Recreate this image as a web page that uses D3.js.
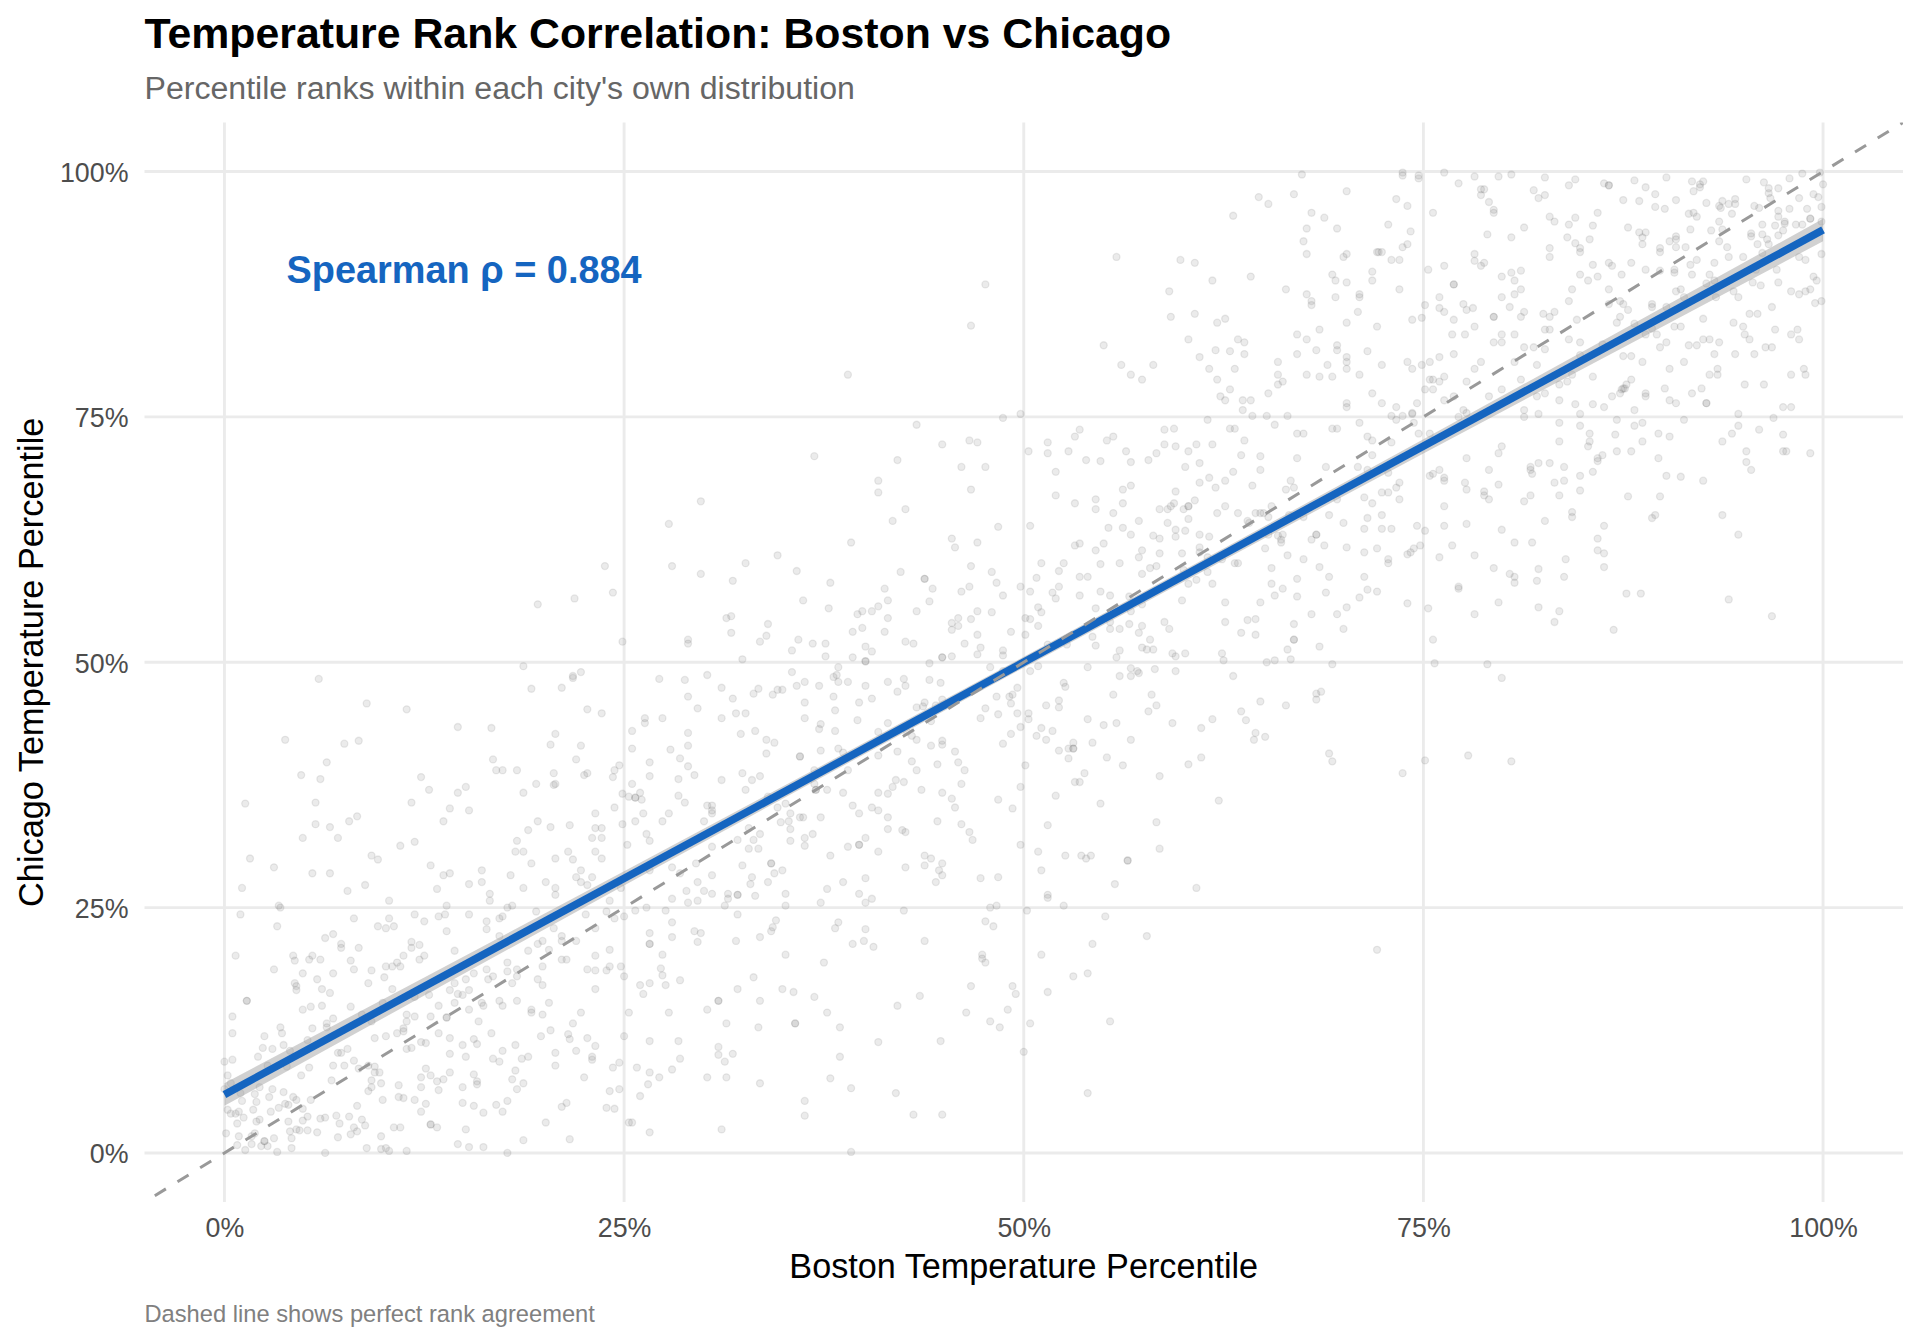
<!DOCTYPE html>
<html>
<head>
<meta charset="utf-8">
<script src="https://cdn.jsdelivr.net/npm/d3@7"></script>
<style>
  html, body { margin: 0; padding: 0; background: #fff; }
  text { font-family: "Liberation Sans", Arial, sans-serif; }
</style>
</head>
<body>
<svg id="chart" width="1920" height="1344"></svg>
<script>
// chart texts
const titleText = "Temperature Rank Correlation: Boston vs Chicago";
const subtitleText = "Percentile ranks within each city's own distribution";
const captionText = "Dashed line shows perfect rank agreement";
const xLabel = "Boston Temperature Percentile";
const yLabel = "Chicago Temperature Percentile";
const rhoText = "Spearman ρ = 0.884";

const tickValues = [0, 25, 50, 75, 100];

// fitted rank line and its confidence band
const fitX = [0, 100];
const fitY = [5.95, 94.05];
const bandX = [0, 12.5, 25, 37.5, 50, 62.5, 75, 87.5, 100];
const bandLow = [4.8, 16.04, 27.26, 38.39, 49.45, 60.4, 71.28, 82.08, 92.9];
const bandHigh = [7.1, 17.88, 28.7, 39.59, 50.55, 61.6, 72.72, 83.92, 95.2];

// perfect agreement line
const refX = [-5, 105];

// [boston %, chicago %] per day
const lowLow = [[1.0,24.3],[3.4,25.2],[3.5,25.0],[3.3,23.1],[8.1,23.9],[10.3,23.9],[11.9,24.3],[13.4,24.1],[13.8,24.3],[12.5,23.6],[9.6,23.1],[10.1,22.9],[10.6,23.1],[13.9,22.6],[15.3,24.3],[16.4,23.6],[16.4,22.8],[17.2,23.9],[17.4,24.1],[19.5,24.6],[17.2,22.1],[20.6,22.9],[21.1,22.1],[21.1,21.6],[22.0,21.6],[19.9,21.6],[19.6,21.3],[22.6,24.3],[23.9,24.6],[24.4,23.9],[25.0,24.1],[23.2,22.9],[6.3,21.9],[6.8,22.3],[7.3,21.3],[7.3,20.9],[8.4,20.9],[11.7,21.5],[11.7,20.9],[12.2,21.2],[0.7,20.1],[4.3,20.1],[4.4,19.6],[5.3,19.7],[5.5,20.1],[6.0,19.7],[7.9,19.6],[3.1,18.7],[4.9,18.3],[6.8,18.3],[8.1,18.7],[9.2,18.6],[10.1,19.0],[10.5,19.0],[10.8,19.4],[11.0,19.0],[11.2,20.1],[12.2,19.7],[12.5,20.1],[14.4,20.6],[19.0,20.6],[20.3,20.7],[23.2,20.1],[24.1,20.7],[21.1,19.7],[21.4,19.7],[17.7,19.4],[19.9,19.0],[16.4,18.7],[17.7,18.5],[18.3,18.7],[18.3,18.0],[16.8,18.0],[16.5,17.7],[15.1,17.7],[15.6,18.3],[14.4,17.3],[10.0,17.9],[9.0,17.3],[5.8,17.7],[4.4,17.3],[4.5,17.0],[4.5,16.6],[6.1,16.7],[6.6,16.3],[10.5,16.7],[18.0,17.3],[19.6,17.7],[19.9,17.1],[22.7,18.7],[23.2,18.6],[23.9,18.6],[24.1,19.0],[24.8,19.0],[25.0,18.0],[23.2,16.7],[14.1,16.6],[14.6,16.2],[14.9,16.1],[15.3,16.6],[12.8,16.1],[11.9,15.9],[1.4,15.5],[1.4,15.5],[4.9,14.6],[5.4,14.9],[6.1,15.0],[7.9,14.9],[9.9,15.3],[13.4,15.0],[14.4,15.3],[16.1,15.3],[16.2,15.0],[17.2,15.5],[17.4,15.0],[18.3,15.5],[20.3,15.3],[15.3,14.6],[19.2,14.6],[19.2,14.3],[19.9,14.1],[22.3,14.3],[25.3,14.3],[0.5,13.9],[8.6,14.1],[6.8,13.7],[11.4,14.1],[11.9,13.9],[12.9,13.9],[13.9,13.8],[13.9,13.8],[11.4,13.4],[9.2,13.4],[15.9,13.4],[6.4,13.2],[6.4,12.8],[3.5,12.8],[5.5,12.7],[0.5,12.2],[3.6,12.2],[11.2,12.7],[11.2,12.4],[10.8,12.2],[13.4,12.2],[16.7,12.2],[21.8,13.2],[20.4,12.5],[2.5,11.9],[5.2,11.5],[9.4,11.7],[10.1,11.9],[14.1,11.7],[15.6,11.6],[19.8,11.9],[21.5,12.1],[21.6,11.6],[22.7,11.7],[25.0,11.9],[12.3,11.3],[12.6,11.2],[15.8,11.1],[14.9,11.0],[18.2,11.0],[2.4,10.7],[3.0,10.6],[3.7,11.0],[4.1,10.4],[7.7,10.6],[11.4,10.6],[11.7,10.7],[23.2,10.9],[22.0,10.4],[17.4,10.4],[20.7,10.2],[7.1,10.2],[7.3,10.2],[14.1,10.1],[15.1,9.8],[2.1,9.8],[19.0,9.8],[18.6,9.6],[16.8,9.6],[17.2,9.3],[23.0,9.8],[23.0,9.5],[0.5,9.5],[0,9.3],[8.1,9.4],[2.7,8.9],[6.8,8.9],[7.5,8.9],[5.3,8.7],[3.9,8.8],[9.0,8.9],[9.4,8.8],[8.4,8.6],[20.7,8.9],[24.7,9.2],[24.3,8.7],[12.6,8.6],[9.4,8.2],[9.7,8.2],[12.9,7.9],[14.1,8.2],[15.6,8.0],[18.2,8.4],[0.2,7.9],[4.8,7.9],[12.3,7.7],[22.5,7.7],[6.7,7.4],[9.2,7.4],[9.8,7.1],[13.3,7.3],[13.7,7.5],[15.8,7.3],[15.8,7.0],[18.0,7.5],[18.7,7.1],[0.4,7.1],[10.9,6.9],[14.9,6.7],[12.3,6.7],[9.2,6.7],[2.2,6.7],[3.0,6.5],[18.3,6.5],[24.7,6.5],[0,6.5],[13.4,6.4],[9.0,6.3],[24.1,6.3],[3.7,6.2],[1.9,6.0],[1.0,6.1],[4.3,5.7],[2.8,5.7],[10.9,5.7],[11.2,5.6],[4.5,5.4],[5.4,5.4],[9.9,5.4],[11.9,5.4],[17.7,5.3],[1.1,5.3],[2.0,5.2],[14.9,5.1],[12.6,5.0],[21.4,5.1],[3.8,5.0],[4.0,4.9],[8.3,4.8],[15.6,4.8],[17.0,4.9],[21.1,4.7],[23.9,4.6],[24.4,4.5],[3.4,4.6],[4.9,4.5],[1.8,4.4],[0.2,4.4],[0.9,4.2],[2.9,4.2],[12.3,4.2],[16.2,4.1],[17.4,4.2],[0.4,4.0],[0.7,4.0],[5.2,3.7],[7.0,3.8],[7.8,3.7],[1.2,3.6],[6.0,3.5],[6.3,3.6],[2.2,3.4],[4.9,3.3],[8.6,3.4],[2.0,3.2],[0.8,3.0],[4.0,3.2],[20.1,3.1],[7.2,3.0],[12.9,2.9],[12.9,2.9],[8.8,2.8],[13.3,2.6],[10.6,2.6],[11.0,2.6],[8.1,2.6],[15.1,2.4],[4.5,2.4],[4.7,2.3],[5.2,2.3],[4.1,2.2],[8.3,2.2],[5.8,2.1],[0.1,2.0],[1.9,2.0],[7.9,1.9],[9.8,1.7],[1.7,1.7],[0.9,1.7],[4.2,1.5],[7.1,1.6],[3.1,1.5],[2.5,1.2],[2.5,1.2],[18.7,1.3],[21.6,1.4],[1.7,0.9],[0.8,0.8],[2.7,0.7],[2.3,0.7],[14.6,0.9],[15.3,0.6],[16.2,0.6],[4.2,0.5],[1.3,0.3],[8.9,0.5],[9.8,0.4],[10.1,0.5],[10.3,0.2],[11.4,0.2],[3.3,0.1],[6.3,0.0],[17.7,0.0]];

const lowMid = [[5.9,48.3],[18.7,49.6],[21.8,48.6],[21.8,48.4],[22.3,49.0],[19.2,47.3],[21.1,47.4],[8.9,45.8],[11.4,45.2],[22.7,45.2],[23.6,44.8],[14.6,43.4],[16.7,43.3],[20.7,42.7],[3.8,42.1],[7.5,41.7],[8.4,42.0],[20.4,41.6],[22.3,41.5],[6.4,39.8],[16.8,40.1],[22.0,40.1],[17.0,39.0],[17.4,39.0],[18.3,39.0],[20.6,38.7],[24.7,39.5],[24.4,39.0],[22.7,38.7],[22.5,38.5],[24.3,38.3],[4.8,38.5],[6.0,38.1],[12.3,38.3],[19.5,37.6],[20.7,37.6],[20.6,37.5],[15.1,37.3],[12.8,37.0],[14.6,36.7],[18.7,36.7],[1.3,35.6],[5.7,35.7],[11.7,35.7],[14.1,35.1],[15.3,34.9],[24.4,35.2],[23.2,34.6],[8.3,34.3],[7.8,33.8],[13.7,33.8],[19.6,33.8],[5.7,33.5],[6.6,33.2],[21.6,33.4],[20.4,33.2],[23.2,33.1],[23.6,33.1],[19.0,32.9],[4.9,32.1],[7.1,32.1],[23.0,32.1],[23.6,32.1],[18.3,31.8],[11.9,31.7],[11.0,31.3],[18.2,30.7],[18.7,30.7],[21.5,30.7],[23.2,30.7],[9.2,30.3],[9.6,29.9],[1.6,30.0],[20.7,30.0],[21.8,29.9],[23.6,30.0],[19.2,29.5],[12.9,29.3],[3.1,29.1],[16.1,28.8],[22.3,28.8],[5.5,28.5],[6.6,28.5],[13.7,28.3],[14.1,28.5],[17.9,28.3],[22.0,28.1],[23.0,28.1],[8.8,27.3],[1.1,27.0],[15.3,27.4],[16.1,27.6],[20.1,27.6],[22.3,27.6],[22.7,27.3],[18.7,27.0],[20.7,27.0],[13.3,26.9],[7.7,26.7],[24.8,27.0],[16.6,26.4],[20.7,26.3],[10.3,25.7],[16.6,25.7],[24.1,25.7],[13.9,25.2],[17.7,25.0],[18.0,25.2],[19.6,55.9],[21.9,56.5],[24.3,57.1],[23.8,59.8],[24.9,52.1]];

const midLow = [[28.0,23.5],[26.6,22.4],[26.6,21.3],[26.6,21.3],[28.0,22.0],[29.4,22.6],[29.8,22.4],[29.6,21.5],[32.0,21.6],[33.5,22.0],[34.3,23.0],[34.5,23.7],[34.2,22.6],[38.4,23.5],[38.2,22.9],[40.1,22.8],[39.3,21.3],[40.0,21.6],[40.6,21.0],[43.8,21.6],[35.1,20.2],[27.4,20.2],[27.3,18.8],[27.4,18.1],[28.5,17.6],[26.0,17.1],[26.6,17.3],[27.6,17.1],[26.2,16.2],[33.1,17.9],[32.1,16.7],[34.9,16.7],[35.6,16.4],[36.9,15.9],[37.5,19.4],[30.9,15.5],[30.9,15.5],[30.2,14.6],[33.5,15.5],[37.7,14.3],[27.8,14.3],[42.1,15.0],[43.5,16.0],[31.4,13.2],[33.4,12.8],[35.7,13.2],[35.7,13.2],[38.5,12.8],[26.6,11.4],[28.4,11.4],[30.9,10.8],[31.8,10.1],[30.9,10.0],[31.3,9.3],[40.9,11.3],[44.8,11.4],[38.5,9.8],[28.5,9.6],[25.8,8.7],[26.6,8.2],[28.0,8.5],[27.2,7.7],[30.2,7.7],[31.4,7.7],[33.5,7.1],[37.9,7.6],[26.5,7.0],[39.2,6.6],[26.0,5.8],[42.0,6.1],[36.3,5.3],[36.3,3.8],[43.1,3.9],[44.9,3.9],[25.3,3.1],[25.5,3.1],[26.6,2.1],[31.1,2.4],[39.2,0.1],[47.6,23.6],[48.1,23.1],[47.4,20.2],[47.4,19.8],[47.6,19.4],[46.7,17.0],[49.3,17.0],[49.5,16.2],[46.4,14.3],[49.0,14.6],[47.9,13.4],[48.5,12.8],[50.4,13.2],[50.0,10.3],[51.1,20.2],[51.5,16.4],[53.1,18.0],[54.0,18.3],[54.3,21.3],[55.1,24.1],[57.7,22.1],[55.4,13.4],[54.0,6.1],[72.1,20.7]];

const midMid = [[32.4,50.3],[38.4,49.5],[40.1,50.1],[40.1,50.1],[44.1,49.9],[44.9,50.5],[44.9,50.5],[35.5,49.0],[38.3,48.7],[38.1,48.5],[27.2,48.3],[28.8,48.2],[30.2,48.7],[38.4,48.0],[39.0,48.0],[41.5,48.0],[42.5,48.3],[44.1,48.2],[44.8,47.9],[42.6,47.6],[36.3,48.0],[35.8,47.6],[37.2,47.6],[40.1,47.6],[31.1,47.4],[33.4,47.3],[33.1,46.8],[34.3,46.7],[34.6,47.2],[34.9,47.2],[42.1,47.0],[29.0,46.5],[31.8,46.3],[38.1,46.5],[40.5,46.3],[47.9,49.5],[48.7,49.1],[49.6,47.4],[49.3,46.7],[49.1,46.5],[48.3,46.5],[36.3,45.9],[39.7,45.9],[43.8,45.9],[49.2,45.8],[29.6,45.3],[43.3,45.4],[43.7,45.5],[44.5,45.6],[44.9,46.2],[47.6,45.3],[38.2,45.1],[26.3,44.3],[26.3,43.8],[27.4,44.3],[31.1,44.3],[32.0,44.8],[32.6,44.8],[36.3,44.3],[39.6,44.1],[44.2,44.0],[47.3,44.3],[48.4,44.7],[49.6,44.8],[50.3,44.8],[50.3,44.2],[41.5,43.8],[37.3,43.7],[37.2,43.2],[49.8,43.4],[25.5,43.0],[29.0,42.8],[32.3,42.7],[33.2,43.0],[38.2,43.0],[40.9,42.9],[42.7,42.9],[49.2,42.7],[43.0,42.5],[33.9,42.1],[34.4,41.8],[43.3,42.1],[44.9,42.0],[44.9,41.6],[44.2,41.5],[48.7,41.7],[25.5,41.2],[27.9,41.1],[29.0,41.5],[38.4,41.2],[37.3,41.0],[33.9,40.7],[38.7,40.8],[42.1,40.9],[45.7,40.9],[36.0,40.4],[36.0,40.4],[40.9,40.5],[28.5,40.2],[26.6,39.8],[29.0,39.4],[43.0,39.9],[44.6,39.6],[45.9,39.8],[50.1,39.5],[43.3,39.0],[46.3,39.0],[39.0,39.0],[36.9,39.0],[32.4,38.7],[29.4,38.5],[26.6,38.4],[33.5,38.4],[28.4,38.1],[31.1,38.0],[33.0,38.0],[42.0,38.0],[42.5,37.8],[25.5,37.6],[36.9,37.6],[46.1,37.6],[41.8,37.3],[49.8,37.3],[32.6,37.0],[37.0,37.0],[37.0,37.0],[37.7,37.0],[43.6,37.0],[24.9,36.6],[26.0,36.7],[38.7,36.7],[40.9,36.7],[41.5,36.6],[44.9,36.7],[25.3,36.3],[25.7,36.2],[25.7,36.2],[28.4,36.4],[26.1,36.0],[45.5,36.1],[28.8,35.7],[48.4,36.0],[34.0,36.3],[35.1,35.6],[30.2,35.4],[30.5,35.4],[39.3,35.4],[34.6,35.2],[30.5,34.9],[40.5,35.2],[40.9,34.9],[45.7,35.2],[49.3,35.1],[26.2,34.6],[27.8,34.6],[30.5,34.6],[35.4,34.6],[39.7,34.6],[25.7,33.8],[27.4,33.8],[30.0,33.8],[34.8,33.7],[35.3,33.8],[36.0,34.2],[36.2,34.2],[37.3,34.2],[41.5,34.2],[44.6,33.8],[24.9,33.5],[46.1,33.5],[32.8,33.1],[35.4,33.0],[41.5,33.0],[42.4,32.9],[42.6,32.7],[46.6,32.7],[26.4,32.5],[33.5,32.5],[36.8,32.5],[26.6,31.8],[33.1,31.9],[32.1,31.9],[35.4,31.8],[36.3,32.1],[40.1,32.1],[46.8,31.9],[25.2,31.4],[36.3,31.3],[39.7,31.4],[39.7,31.4],[49.8,31.4],[30.5,31.2],[39.0,31.2],[32.8,31.0],[33.4,31.0],[40.9,30.7],[37.9,30.3],[43.8,30.3],[44.2,30.0],[29.5,29.5],[28.0,29.1],[32.4,29.3],[34.2,29.5],[34.2,29.5],[43.8,29.3],[44.9,29.5],[42.6,29.1],[26.6,28.8],[28.5,28.5],[34.9,28.8],[34.4,28.5],[44.7,28.8],[30.5,28.3],[33.0,28.1],[44.9,28.3],[47.3,28.0],[48.4,28.1],[40.1,28.0],[29.6,27.6],[32.9,27.4],[34.0,27.6],[38.7,27.6],[44.5,27.6],[37.7,26.9],[28.9,26.7],[30.0,26.7],[30.5,26.4],[31.5,26.4],[31.5,25.9],[32.1,26.3],[32.1,26.3],[33.2,26.2],[35.1,26.4],[39.7,26.4],[28.0,25.9],[29.0,25.5],[29.6,25.7],[40.5,25.9],[37.3,25.5],[40.1,25.5],[31.3,25.2],[35.1,25.2],[47.9,25.0],[48.3,25.2],[26.4,25.0],[25.7,24.7],[27.6,24.7],[42.5,24.7],[50.2,24.7],[32.1,24.3]];

const midHigh = [[49.8,75.3],[48.7,74.9],[43.3,74.2],[44.9,72.2],[46.6,72.6],[47.1,72.4],[36.9,71.0],[42.1,70.6],[46.1,69.9],[47.6,69.9],[40.9,68.5],[40.9,67.3],[46.7,67.6],[29.8,66.4],[42.6,65.6],[27.8,64.1],[41.8,64.4],[48.4,63.8],[45.5,62.6],[39.2,62.2],[47.1,62.2],[45.7,61.7],[34.6,60.9],[32.6,60.1],[46.7,59.8],[28.0,59.8],[29.8,59.0],[35.8,59.3],[42.3,59.2],[48.0,59.2],[31.8,58.3],[37.9,58.1],[43.8,58.5],[43.8,58.5],[48.3,58.1],[49.8,57.7],[41.3,57.5],[44.3,57.5],[46.1,57.2],[46.6,57.7],[48.7,56.8],[36.2,56.3],[41.5,56.3],[44.1,56.2],[37.8,55.5],[40.9,55.7],[40.5,55.2],[39.9,55.2],[39.6,54.9],[43.3,55.2],[47.1,55.2],[48.0,55.1],[31.7,54.7],[31.4,54.5],[41.5,54.5],[45.9,54.5],[46.7,54.4],[34.0,53.9],[45.5,54.0],[45.9,53.7],[45.5,53.3],[39.9,53.5],[39.3,53.1],[41.3,53.1],[31.7,53.0],[49.2,53.1],[33.9,52.7],[47.1,52.8],[29.0,52.3],[29.0,51.9],[33.5,52.1],[35.9,52.3],[36.8,51.9],[37.6,51.9],[42.6,52.1],[43.1,51.9],[46.3,51.9],[40.1,51.6],[47.3,51.5],[35.5,51.2],[40.5,51.1],[48.7,51.2],[48.7,50.7],[37.6,50.6],[39.3,50.5],[47.1,50.8],[45.5,50.6],[39.0,79.3],[47.6,88.5],[46.7,84.3]];

const upperMid = [[52.5,47.9],[52.6,47.5],[56.0,48.6],[56.7,48.6],[57.2,48.9],[63.1,48.6],[52.2,46.1],[55.6,46.7],[58.0,46.7],[51.4,45.6],[52.2,45.4],[58.3,45.6],[64.8,46.0],[66.4,45.6],[68.3,46.8],[68.6,47.0],[68.3,46.2],[79.9,48.4],[54.0,44.2],[57.8,45.0],[55.0,43.6],[55.8,43.8],[59.3,43.8],[61.8,44.2],[63.6,45.0],[63.9,44.1],[61.1,43.3],[51.1,43.3],[51.8,43.0],[50.8,42.5],[51.4,42.1],[54.3,41.8],[56.7,42.1],[64.5,42.8],[65.1,42.4],[64.4,42.1],[53.1,41.8],[52.8,41.2],[53.1,41.2],[53.1,41.2],[52.2,41.0],[69.1,40.7],[69.3,39.9],[55.2,40.3],[52.8,40.2],[61.1,40.3],[60.3,39.6],[56.2,39.5],[53.8,38.7],[58.5,38.4],[73.7,38.7],[75.1,40.0],[77.8,40.5],[80.5,39.9],[53.2,37.8],[53.5,37.8],[52.0,36.4],[54.8,35.6],[62.2,35.9],[58.3,33.7],[51.5,33.4],[58.5,31.0],[50.9,30.7],[52.6,30.3],[53.6,30.3],[53.9,30.0],[54.2,30.3],[56.5,29.8],[56.5,29.8],[51.1,28.8],[55.7,27.4],[60.8,27.0],[51.5,26.3],[51.5,26.0],[52.5,25.2]];

const upperUpper = [[61.5,74.7],[64.3,75.1],[65.2,75.1],[66.5,75.1],[73.0,75.1],[73.7,75.1],[73.3,74.7],[74.3,75.3],[74.4,74.4],[71.0,74.4],[58.8,73.7],[59.4,73.8],[62.9,73.8],[63.2,73.8],[65.7,74.2],[69.3,73.8],[69.6,73.8],[67.1,73.3],[67.5,73.3],[74.7,73.3],[75.4,73.3],[53.5,73.7],[53.2,73.0],[55.6,73.0],[55.2,72.6],[51.5,72.4],[50.3,71.5],[51.5,71.3],[52.8,71.5],[71.5,73.0],[71.8,72.6],[73.0,72.4],[63.8,72.6],[58.8,72.2],[59.5,72.0],[60.8,72.2],[61.8,72.2],[60.3,71.5],[56.4,71.5],[58.3,71.3],[63.6,71.1],[64.8,71.0],[67.1,70.8],[71.8,71.1],[53.9,70.6],[54.8,70.5],[56.7,70.4],[57.8,70.6],[61.0,70.3],[60.1,69.9],[68.9,69.9],[70.9,69.9],[52.0,69.4],[63.1,69.4],[64.8,69.6],[72.8,69.3],[71.5,69.6],[61.6,68.8],[61.0,68.3],[62.6,68.5],[66.7,68.5],[75.4,69.0],[75.6,69.2],[56.7,68.0],[64.3,68.0],[73.5,68.3],[56.2,67.6],[62.0,67.8],[66.4,67.6],[66.9,67.8],[73.3,67.8],[59.5,67.4],[72.4,67.3],[72.8,67.3],[52.0,67.0],[71.3,66.8],[73.5,66.6],[54.5,66.6],[60.7,66.5],[69.6,66.6],[53.2,66.2],[56.2,66.2],[59.4,66.2],[71.8,66.2],[59.2,65.9],[59.0,65.6],[58.5,65.6],[60.3,65.9],[60.3,65.9],[60.0,65.6],[62.6,65.9],[65.5,65.9],[54.5,65.6],[55.6,65.2],[62.1,65.2],[63.4,65.2],[64.5,65.2],[64.8,65.2],[65.0,65.2],[66.6,65.0],[65.3,64.8],[69.1,65.0],[67.5,64.8],[72.4,65.0],[71.5,64.7],[60.3,64.6],[57.2,64.4],[64.0,64.4],[64.1,64.2],[59.0,64.2],[70.0,64.2],[50.4,63.9],[55.3,63.7],[56.2,63.7],[74.6,63.9],[59.5,63.5],[60.1,63.4],[71.3,63.6],[72.4,63.6],[73.0,63.6],[75.1,63.4],[56.7,63.0],[58.1,62.9],[58.5,62.6],[59.5,62.8],[61.0,63.0],[61.6,62.8],[65.3,63.0],[65.9,62.9],[66.2,63.0],[66.1,62.5],[66.1,62.2],[68.3,63.0],[68.3,63.0],[68.0,62.5],[53.2,61.9],[53.5,62.1],[55.0,62.1],[68.8,61.9],[70.2,61.7],[72.1,61.6],[65.1,61.6],[54.5,61.4],[57.4,61.4],[61.0,61.7],[61.0,61.2],[74.8,61.9],[74.4,61.6],[74.2,61.2],[74.0,61.0],[71.3,61.2],[59.9,61.1],[58.5,61.1],[66.5,60.9],[57.2,60.7],[61.5,60.7],[62.4,60.5],[67.5,60.5],[72.8,60.5],[72.8,60.1],[51.1,60.1],[52.5,60.1],[54.8,60.0],[56.0,60.1],[63.2,60.1],[63.4,60.1],[58.3,59.8],[57.9,59.6],[68.5,59.7],[65.5,59.6],[52.2,59.3],[61.5,59.2],[57.4,59.0],[60.0,59.4],[50.8,58.6],[53.5,58.7],[54.0,58.7],[69.1,58.7],[71.3,58.7],[60.8,58.4],[67.1,58.5],[60.3,58.0],[61.8,58.0],[65.5,58.0],[52.2,57.7],[66.2,57.5],[71.5,57.4],[72.1,57.2],[50.4,57.2],[54.8,57.2],[51.8,57.1],[68.9,57.1],[53.5,56.8],[55.4,56.8],[56.6,56.7],[67.1,56.7],[65.7,56.8],[52.0,56.5],[71.0,56.6],[59.9,56.3],[62.6,56.1],[64.8,56.1],[57.4,55.9],[74.0,56.0],[50.9,55.6],[70.2,55.6],[54.5,55.5],[56.7,55.2],[75.3,55.5],[51.1,55.1],[69.6,54.9],[68.0,54.9],[50.1,54.5],[50.4,54.4],[64.0,54.3],[64.5,54.4],[58.8,54.1],[62.6,54.1],[55.4,54.1],[56.6,53.9],[57.4,53.7],[66.9,53.9],[50.9,53.7],[55.4,53.4],[56.0,53.4],[59.1,53.4],[70.0,53.4],[57.2,53.0],[63.6,53.0],[64.5,52.8],[50.1,52.8],[54.3,52.6],[66.9,52.3],[66.9,52.3],[57.9,52.3],[52.7,51.8],[51.5,51.8],[54.5,51.7],[68.5,51.6],[57.4,51.5],[57.7,51.3],[58.1,51.3],[66.5,51.3],[56.0,51.2],[75.6,52.3],[62.4,50.9],[59.3,50.9],[59.5,50.6],[60.1,50.9],[55.8,50.5],[62.5,50.2],[65.2,50.0],[65.7,50.2],[66.7,50.3],[69.3,49.8],[50.9,49.6],[54.0,49.5],[56.7,49.4],[57.1,49.1],[58.2,49.3],[59.5,49.1],[50.4,49.1]];

const highMid = [[81.3,75.0],[82.2,75.3],[84.8,75.3],[94.7,75.3],[87.1,74.7],[91.3,74.7],[96.9,74.9],[83.5,74.4],[84.8,74.1],[88.2,74.1],[88.7,74.4],[94.7,74.1],[96.0,73.7],[85.4,73.3],[87.0,73.2],[89.7,73.3],[94.3,73.3],[90.4,73.0],[97.5,73.2],[83.5,72.5],[85.4,72.5],[85.3,72.0],[88.7,72.5],[93.7,72.5],[79.9,72.0],[79.7,71.3],[87.1,71.5],[88.0,71.5],[86.2,71.1],[85.9,70.8],[85.9,70.5],[95.2,71.5],[97.5,71.5],[97.7,71.5],[99.2,71.3],[77.7,70.8],[89.7,70.8],[82.2,70.3],[82.9,70.3],[95.2,70.4],[81.7,69.9],[81.7,69.6],[83.8,69.9],[79.1,69.6],[95.5,69.6],[76.0,69.6],[85.6,69.4],[81.8,69.2],[76.3,68.8],[76.3,68.5],[84.8,69.0],[90.2,69.0],[91.1,68.9],[92.5,68.5],[77.6,68.3],[83.2,68.3],[83.8,68.5],[79.7,68.1],[77.7,67.6],[78.8,67.4],[78.8,67.0],[84.8,67.5],[79.1,66.6],[81.7,67.0],[83.5,67.0],[87.8,66.9],[89.8,66.9],[81.3,66.4],[76.3,65.9],[84.3,65.3],[84.3,64.8],[93.7,65.0],[89.5,65.0],[89.3,64.7],[82.6,64.4],[77.7,64.1],[76.3,63.9],[86.3,63.9],[79.9,63.5],[94.7,63.0],[85.9,62.6],[80.7,62.2],[81.8,62.2],[76.8,61.9],[78.2,60.9],[76.0,60.7],[85.9,61.4],[86.3,61.1],[83.9,60.5],[79.4,59.6],[82.2,59.5],[86.3,59.7],[80.4,59.0],[80.7,58.7],[83.8,58.7],[80.7,58.1],[82.1,58.3],[77.2,57.7],[77.2,57.5],[87.7,57.0],[88.6,57.0],[94.1,56.4],[79.7,56.1],[82.2,55.6],[83.5,55.2],[78.2,54.9],[96.8,54.7],[83.2,54.1],[86.9,53.3],[75.7,49.9],[79.0,49.8]];

const upperTop = [[67.4,99.7],[73.7,99.9],[73.7,99.6],[74.7,99.6],[74.7,99.3],[66.9,97.7],[70.2,98.0],[64.7,97.4],[65.3,96.7],[73.3,97.2],[74.0,96.5],[63.1,95.5],[68.0,95.8],[68.8,95.3],[75.6,95.8],[72.8,94.6],[67.7,94.2],[69.6,94.2],[74.2,93.9],[67.5,92.9],[74.0,92.6],[73.7,92.3],[67.7,91.6],[70.2,91.6],[70.0,91.3],[72.1,91.8],[72.2,91.8],[72.4,91.8],[55.8,91.3],[59.8,91.0],[60.7,90.7],[73.0,91.0],[73.5,91.0],[75.3,90.0],[71.8,89.8],[69.3,89.5],[64.2,89.3],[61.8,88.9],[69.5,88.9],[71.8,88.9],[70.2,88.7],[66.4,88.0],[73.5,88.0],[59.1,87.8],[67.7,87.5],[71.0,87.5],[71.0,87.2],[69.5,87.2],[68.0,86.8],[68.0,86.4],[75.1,86.4],[70.9,85.7],[59.2,85.2],[60.7,85.5],[74.9,85.1],[62.6,85.0],[62.1,84.6],[70.2,84.6],[74.3,84.9],[72.1,84.2],[68.5,83.9],[67.1,83.4],[67.7,82.9],[60.3,82.9],[63.4,82.9],[63.8,82.6],[55.0,82.3],[69.6,82.3],[69.6,81.8],[62.0,81.8],[62.9,81.7],[68.3,81.8],[71.5,81.7],[63.8,81.4],[67.1,81.4],[61.0,81.1],[70.2,81.1],[70.2,80.6],[65.9,80.6],[74.0,80.6],[75.4,80.6],[56.1,80.3],[58.1,80.3],[69.0,80.3],[72.4,80.3],[74.9,80.3],[61.6,79.9],[63.2,79.9],[70.2,79.9],[74.3,79.9],[56.7,79.3],[65.9,79.3],[67.7,79.3],[68.5,79.1],[69.3,79.1],[71.0,79.3],[57.4,78.8],[62.1,78.8],[66.2,78.6],[65.9,78.3],[75.4,78.8],[75.6,78.8],[62.9,77.8],[75.1,77.8],[75.6,77.8],[65.3,77.4],[71.8,77.4],[62.3,77.1],[62.6,76.7],[63.7,76.7],[64.2,76.7],[70.2,76.4],[70.2,76.0],[72.4,76.4],[74.6,76.4],[73.3,76.0],[63.7,75.7],[74.3,75.4]];

const highHigh = [[76.3,99.9],[77.2,98.8],[78.2,99.5],[79.7,99.5],[80.5,99.7],[82.6,99.4],[84.1,98.6],[84.5,99.2],[86.3,98.8],[86.6,98.6],[86.6,98.6],[88.2,99.1],[88.9,98.4],[90.2,99.4],[91.8,99.0],[92.3,98.7],[92.3,98.4],[92.5,99.0],[95.2,99.2],[96.3,98.9],[97.9,99.3],[98.7,99.8],[99.8,99.9],[100,98.7],[96.6,98.3],[97.2,98.3],[96.6,97.8],[96.7,97.3],[78.6,98.2],[78.8,98.2],[78.6,97.6],[81.9,98.1],[82.6,97.6],[82.2,97.3],[91.9,98.0],[89.5,97.7],[90.8,97.1],[87.5,97.1],[88.5,97.0],[79.1,96.9],[92.7,96.8],[93.7,97.0],[94.5,97.2],[94.5,96.7],[94.1,96.7],[93.5,96.5],[98.5,97.3],[99.4,97.7],[99.7,97.4],[89.5,96.4],[90.1,96.2],[95.7,96.5],[96.0,96.3],[97.9,96.2],[99.0,96.2],[99.9,96.4],[79.4,96.1],[79.4,95.8],[85.9,95.8],[91.6,95.7],[91.9,95.8],[92.1,95.4],[94.3,95.7],[93.6,96.3],[97.2,96.0],[97.2,95.4],[82.9,95.4],[83.2,94.9],[84.5,95.3],[93.5,94.9],[97.6,94.9],[99.2,95.2],[99.2,95.2],[99.9,94.9],[81.3,94.3],[84.1,94.6],[85.6,94.5],[87.8,94.3],[91.7,94.1],[93.0,94.0],[93.7,94.1],[96.2,94.6],[97.0,94.5],[97.6,94.7],[98.3,94.6],[98.7,94.6],[97.5,94.0],[88.5,93.8],[88.9,93.8],[79.0,93.6],[80.5,93.3],[84.0,93.3],[85.4,93.1],[88.7,93.3],[90.8,93.4],[90.8,93.1],[90.4,92.9],[95.5,93.7],[95.5,93.4],[96.2,93.6],[97.2,93.5],[96.5,93.1],[88.7,92.6],[84.5,92.7],[93.5,92.9],[95.9,92.6],[96.6,92.6],[82.9,92.2],[84.8,92.2],[84.8,91.8],[89.8,92.2],[89.8,91.8],[90.8,92.3],[91.4,92.3],[94.0,92.3],[78.2,91.6],[82.9,91.3],[96.2,91.7],[99.9,91.6],[94.1,91.3],[95.0,91.3],[98.5,91.3],[78.2,90.9],[92.1,91.0],[98.9,91.0],[78.6,90.4],[78.8,90.7],[76.3,90.4],[85.6,90.5],[86.6,90.7],[86.8,90.4],[88.0,90.7],[93.2,90.7],[91.7,90.5],[88.9,90.0],[89.8,89.9],[90.7,90.0],[90.7,89.7],[97.1,90.0],[95.8,90.0],[80.5,89.7],[81.1,89.9],[79.9,89.3],[84.8,89.5],[85.9,89.3],[87.4,89.5],[91.8,89.5],[92.9,89.5],[80.7,88.9],[85.3,88.9],[93.2,88.9],[99.4,89.3],[99.6,88.9],[76.9,88.5],[76.9,88.5],[92.7,88.6],[95.6,88.7],[96.1,88.4],[97.2,88.7],[81.1,88.0],[80.7,87.5],[84.3,88.0],[86.6,88.0],[91.1,88.0],[90.8,87.8],[94.4,87.8],[98.0,87.8],[98.5,87.5],[98.9,87.8],[99.2,88.0],[76.0,87.2],[79.9,87.2],[91.3,87.2],[93.3,87.2],[94.7,87.2],[77.5,86.5],[84.1,86.8],[86.6,86.5],[87.3,86.8],[87.5,86.5],[89.3,86.5],[89.3,86.2],[99.5,86.6],[99.9,86.8],[76.0,86.1],[77.7,85.9],[78.1,86.1],[80.4,86.2],[87.8,85.9],[90.2,86.2],[96.8,86.2],[76.3,85.7],[81.3,85.7],[82.5,85.5],[83.2,85.7],[82.9,85.2],[81.1,85.2],[79.4,85.2],[79.4,85.2],[95.4,85.5],[95.9,85.5],[87.3,85.2],[76.9,84.9],[84.6,84.9],[87.1,84.6],[92.5,85.0],[94.4,84.6],[88.2,84.5],[78.2,84.2],[90.7,84.2],[91.1,84.2],[95.0,84.2],[82.6,83.9],[82.9,83.9],[89.3,84.0],[97.0,83.9],[98.4,83.9],[76.8,83.4],[77.6,83.4],[79.9,83.4],[80.7,83.4],[88.9,83.4],[89.6,83.4],[95.1,83.4],[98.0,83.4],[84.1,82.9],[92.5,82.9],[92.9,82.9],[95.4,82.9],[98.5,82.9],[79.4,82.6],[79.9,82.6],[84.8,82.6],[93.5,82.6],[90.2,82.6],[86.2,82.4],[91.6,82.3],[92.1,82.3],[89.8,82.1],[81.3,82.1],[81.9,82.1],[82.6,81.9],[96.4,82.1],[96.8,82.1],[76.9,81.4],[76.0,81.1],[84.8,81.3],[93.2,81.4],[94.5,81.4],[95.7,81.4],[87.5,81.2],[88.0,81.2],[88.7,80.6],[91.3,80.6],[78.6,80.6],[80.7,80.6],[82.1,80.3],[78.2,79.9],[90.4,79.9],[93.4,79.9],[98.8,79.9],[92.9,79.3],[93.4,79.3],[98.0,79.3],[98.9,79.3],[76.3,79.1],[85.6,79.1],[84.3,79.3],[77.7,78.6],[76.0,78.6],[81.1,78.8],[88.0,78.8],[84.0,78.6],[83.5,78.3],[95.1,78.3],[96.3,78.3],[87.7,78.3],[87.5,77.9],[87.6,77.9],[87.4,77.8],[79.9,77.8],[90.1,77.9],[92.4,77.9],[87.3,77.4],[76.9,77.1],[86.8,77.1],[88.9,77.4],[88.9,77.1],[91.8,77.4],[79.1,77.1],[82.1,77.1],[82.6,77.4],[76.3,76.7],[83.5,76.7],[90.4,76.7],[90.8,76.4],[92.7,76.4],[92.7,76.4],[84.5,76.3],[85.6,76.3],[86.3,76.0],[97.5,76.0],[98.0,76.0],[77.5,75.7],[81.3,75.7],[88.2,75.7],[77.2,75.0],[77.7,75.4]];

const ranks = [].concat(lowLow, lowMid, midLow, midMid, midHigh, upperMid, upperUpper, highMid, upperTop, highHigh);

const svg = d3.select("#chart");

// panel position
const panel = { left: 144.5, right: 1903, top: 122.5, bottom: 1202 };

const x = d3.scaleLinear().domain([-5, 105]).range([panel.left, panel.right]);
const y = d3.scaleLinear().domain([-5, 105]).range([panel.bottom, panel.top]);

svg.append("defs").append("clipPath").attr("id", "panel-clip")
  .append("rect")
  .attr("x", panel.left)
  .attr("y", panel.top)
  .attr("width", panel.right - panel.left)
  .attr("height", panel.bottom - panel.top);

// grid
const gridColor = "#ebebeb";
svg.append("g").selectAll("line")
  .data(tickValues)
  .join("line")
  .attr("x1", d => x(d)).attr("x2", d => x(d))
  .attr("y1", panel.top).attr("y2", panel.bottom)
  .attr("stroke", gridColor).attr("stroke-width", 2.9);
svg.append("g").selectAll("line")
  .data(tickValues)
  .join("line")
  .attr("y1", d => y(d)).attr("y2", d => y(d))
  .attr("x1", panel.left).attr("x2", panel.right)
  .attr("stroke", gridColor).attr("stroke-width", 2.9);

// axes, text only
const xAxis = d3.axisBottom(x).tickValues(tickValues).tickFormat(d => d + "%").tickSize(0).tickPadding(0);
const yAxis = d3.axisLeft(y).tickValues(tickValues).tickFormat(d => d + "%").tickSize(0).tickPadding(0);
const gx = svg.append("g").attr("transform", `translate(0,${panel.bottom})`).call(xAxis);
const gy = svg.append("g").attr("transform", `translate(${panel.left - 16},0)`).call(yAxis);
gx.select(".domain").remove();
gy.select(".domain").remove();
gx.selectAll("text").attr("font-size", 26.8).attr("fill", "#4d4d4d").attr("dy", null).attr("y", 35);
gy.selectAll("text").attr("font-size", 26.8).attr("fill", "#4d4d4d").attr("dy", "0.37em");

// daily points
const plot = svg.append("g").attr("clip-path", "url(#panel-clip)");
plot.append("g").selectAll("circle")
  .data(ranks)
  .join("circle")
  .attr("cx", d => x(d[0]))
  .attr("cy", d => y(d[1]))
  .attr("r", 3.5)
  .attr("fill", "#666")
  .attr("fill-opacity", 0.13)
  .attr("stroke", "#666")
  .attr("stroke-opacity", 0.13)
  .attr("stroke-width", 1.3);

// confidence band
const bandArea = d3.area()
  .x((d, i) => x(bandX[i]))
  .y0((d, i) => y(bandLow[i]))
  .y1((d, i) => y(bandHigh[i]));
plot.append("path")
  .attr("d", bandArea(bandX))
  .attr("fill", "#999")
  .attr("fill-opacity", 0.45);

// fit
const fitLine = d3.line().x((d, i) => x(fitX[i])).y((d, i) => y(fitY[i]));
plot.append("path")
  .attr("d", fitLine(fitX))
  .attr("fill", "none")
  .attr("stroke", "#1565C0")
  .attr("stroke-width", 7.6);

// perfect agreement
plot.append("path")
  .attr("d", d3.line().x(d => x(d)).y(d => y(d))(refX))
  .attr("fill", "none")
  .attr("stroke", "#999")
  .attr("stroke-width", 3)
  .attr("stroke-dasharray", "13,13.6")
  .attr("stroke-dashoffset", -12.1);

// annotation
svg.append("text")
  .attr("x", 286.5).attr("y", 283)
  .attr("font-size", 37.9)
  .attr("font-weight", "bold")
  .attr("fill", "#1565C0")
  .text(rhoText);

// titles
svg.append("text").attr("x", 144.5).attr("y", 48)
  .attr("font-size", 42.8).attr("font-weight", "bold").attr("fill", "#000")
  .text(titleText);
svg.append("text").attr("x", 144.5).attr("y", 98.5)
  .attr("font-size", 32.1).attr("fill", "#666")
  .text(subtitleText);
svg.append("text").attr("x", 144.5).attr("y", 1321.5)
  .attr("font-size", 23.7).attr("fill", "#808080")
  .text(captionText);
svg.append("text")
  .attr("x", x(50)).attr("y", 1278)
  .attr("text-anchor", "middle")
  .attr("font-size", 34.2).attr("fill", "#000")
  .text(xLabel);
svg.append("text")
  .attr("transform", `translate(43,${y(50)}) rotate(-90)`)
  .attr("text-anchor", "middle")
  .attr("font-size", 34.3).attr("fill", "#000")
  .text(yLabel);
</script>
</body>
</html>
